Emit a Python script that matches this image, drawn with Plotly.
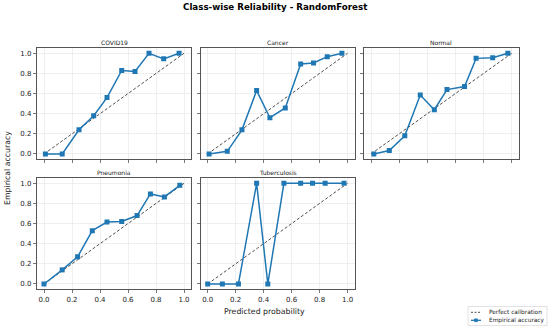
import plotly.graph_objects as go

W, H = 550, 329

classes = ["COVID19", "Cancer", "Normal", "Pneumonia", "Tuberculosis"]

covid_x = [0.01, 0.13, 0.25, 0.355, 0.45, 0.555, 0.65, 0.75, 0.855, 0.965]
covid_y = [0.0, 0.0, 0.24, 0.38, 0.56, 0.83, 0.82, 1.0, 0.945, 1.0]

cancer_x = [0.01, 0.14, 0.245, 0.35, 0.445, 0.555, 0.665, 0.757, 0.855, 0.96]
cancer_y = [0.0, 0.026, 0.24, 0.63, 0.36, 0.457, 0.895, 0.905, 0.967, 1.0]

normal_x = [0.02, 0.13, 0.24, 0.35, 0.45, 0.54, 0.665, 0.747, 0.865, 0.973]
normal_y = [0.0, 0.035, 0.18, 0.585, 0.44, 0.64, 0.67, 0.95, 0.957, 1.0]

pneu_x = [0.0, 0.13, 0.24, 0.345, 0.45, 0.555, 0.665, 0.76, 0.86, 0.97]
pneu_y = [0.0, 0.14, 0.27, 0.53, 0.615, 0.62, 0.68, 0.895, 0.865, 0.98]

tb_x = [0.0, 0.105, 0.22, 0.35, 0.43, 0.545, 0.665, 0.75, 0.84, 0.975]
tb_y = [0.0, 0.0, 0.0, 1.0, 0.0, 1.0, 1.0, 1.0, 1.0, 1.0]

diag = [0.0, 1.0]
tick_vals = [0.0, 0.2, 0.4, 0.6, 0.8, 1.0]
tick_text = ["0.0", "0.2", "0.4", "0.6", "0.8", "1.0"]
legend_labels = ["Perfect calibration", "Empirical accuracy"]

series_x = [covid_x, cancer_x, normal_x, pneu_x, tb_x]
series_y = [covid_y, cancer_y, normal_y, pneu_y, tb_y]

# panel pixel boxes (left, right) and (top, bottom)
cols = [(37.0, 191.0), (200.7, 354.5), (364.0, 518.7)]
rows = [(48.3, 159.0), (178.3, 289.0)]
positions = [(0, 0), (0, 1), (0, 2), (1, 0), (1, 1)]

FONT = "DejaVu Sans"
BLUE = "#1f77b4"
AX = "#555555"
TXT = "#222222"


def px(x):
    return x / W


def py(y):
    return 1 - y / H


fig = go.Figure()
layout = dict(
    width=W, height=H, margin=dict(l=0, r=0, t=0, b=0, autoexpand=False),
    paper_bgcolor="white", plot_bgcolor="white",
    font=dict(family=FONT, size=7, color=TXT),
    showlegend=False,
)
annotations = []
shapes = []

for i, name in enumerate(classes):
    r, c = positions[i]
    k = i + 1
    xa = "x" if k == 1 else f"x{k}"
    ya = "y" if k == 1 else f"y{k}"
    fig.add_trace(go.Scatter(
        x=diag, y=diag, mode="lines", xaxis=xa, yaxis=ya,
        line=dict(color=TXT, width=0.8, dash="3px,2px"),
        name=legend_labels[0],
    ))
    fig.add_trace(go.Scatter(
        x=series_x[i], y=series_y[i], mode="lines+markers", xaxis=xa, yaxis=ya,
        line=dict(color=BLUE, width=1.5),
        marker=dict(symbol="square", size=5, color=BLUE),
        name=legend_labels[1],
    ))
    l, rr = cols[c]
    t, b = rows[r]
    axcommon = dict(
        range=[-0.05, 1.05], tickvals=tick_vals, ticktext=tick_text,
        showline=True, mirror=True, linecolor=AX, linewidth=1.1,
        ticks="outside", ticklen=3, tickwidth=0.8, tickcolor=AX,
        showgrid=True, gridcolor="#e8e8e8", gridwidth=0.7,
        zeroline=False, tickfont=dict(size=7, color=TXT, family=FONT),
    )
    layout["xaxis" if k == 1 else f"xaxis{k}"] = dict(
        axcommon, domain=[px(l), px(rr)], anchor=ya, showticklabels=(r == 1))
    layout["yaxis" if k == 1 else f"yaxis{k}"] = dict(
        axcommon, domain=[py(b), py(t)], anchor=xa, showticklabels=(c == 0))
    annotations.append(dict(
        text=name, x=px((l + rr) / 2), y=py(t - 5.5), xref="paper", yref="paper",
        xanchor="center", yanchor="middle", showarrow=False,
        font=dict(size=6, family=FONT, color=TXT),
    ))

annotations.append(dict(
    text="<b>Class-wise Reliability - RandomForest</b>", x=0.5, y=py(7),
    xref="paper", yref="paper", xanchor="center", yanchor="middle",
    showarrow=False, font=dict(size=8.7, family=FONT, color="black"),
))
annotations.append(dict(
    text="Predicted probability", x=px(264), y=py(311),
    xref="paper", yref="paper", xanchor="center", yanchor="middle",
    showarrow=False, font=dict(size=7.8, family=FONT, color=TXT),
))
annotations.append(dict(
    text="Empirical accuracy", x=px(7), y=py(168), textangle=-90,
    xref="paper", yref="paper", xanchor="center", yanchor="middle",
    showarrow=False, font=dict(size=7.8, family=FONT, color=TXT),
))

# custom legend (box, samples, labels)
shapes.append(dict(type="rect", xref="paper", yref="paper",
                   x0=px(468), x1=px(547), y0=py(325.5), y1=py(306.5),
                   line=dict(color="#d6d6d6", width=0.7), fillcolor="white"))
shapes.append(dict(type="line", xref="paper", yref="paper",
                   x0=px(471), x1=px(481), y0=py(312.3), y1=py(312.3),
                   line=dict(color=TXT, width=0.8, dash="2px,1.5px")))
shapes.append(dict(type="line", xref="paper", yref="paper",
                   x0=px(471), x1=px(481), y0=py(320.3), y1=py(320.3),
                   line=dict(color=BLUE, width=1.3)))
shapes.append(dict(type="rect", xref="paper", yref="paper",
                   x0=px(474.5), x1=px(477.5), y0=py(321.8), y1=py(318.8),
                   line=dict(color=BLUE, width=0.5), fillcolor=BLUE))
for lab, yy in zip(legend_labels, [312.3, 320.3]):
    annotations.append(dict(
        text=lab, x=px(487), y=py(yy), xref="paper", yref="paper",
        xanchor="left", yanchor="middle", showarrow=False,
        font=dict(size=5.8, family=FONT, color=TXT),
    ))

layout["annotations"] = annotations
layout["shapes"] = shapes
fig.update_layout(**layout)
fig.write_html(
    "out.html",
    config={"displayModeBar": False, "staticPlot": True},
    post_script="document.body.style.margin='0';document.body.style.padding='0';"
                "document.body.style.overflow='hidden';",
)
